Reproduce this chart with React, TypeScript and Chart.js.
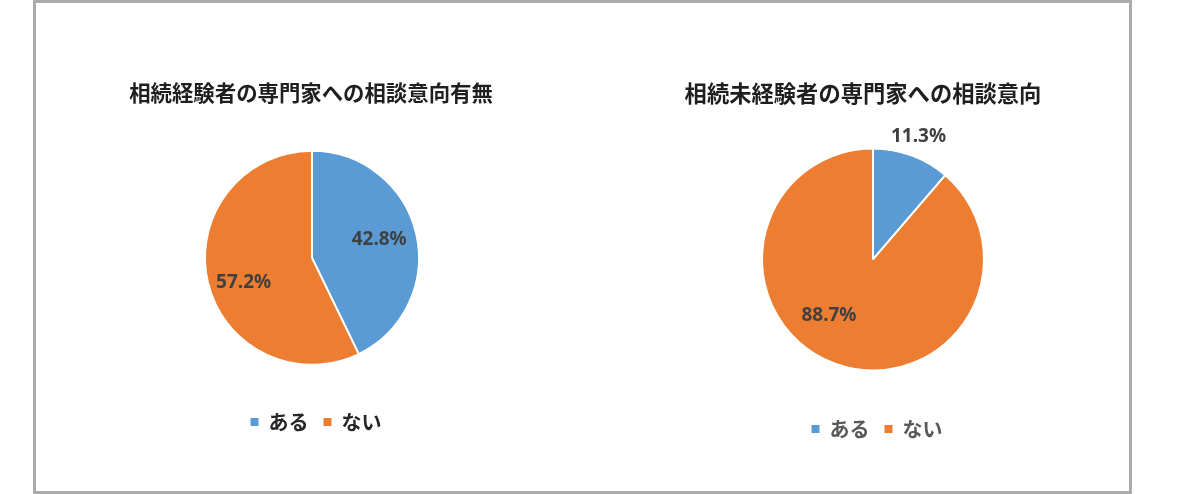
import React, { useEffect, useRef } from "react";
import { Chart, registerables } from "chart.js";

Chart.register(...registerables);

// ---- data ----
const categories = ["ある", "ない"];
const experiencedValues = [42.8, 57.2];
const inexperiencedValues = [11.3, 88.7];
const experiencedTitle = "相続経験者の専門家への相談意向有無";
const inexperiencedTitle = "相続未経験者の専門家への相談意向";
const sliceColors = ["#5B9BD5", "#ED7D31"];

const CJK = '"Noto Sans CJK JP", "Noto Sans", sans-serif';

const percentLabels = {
  id: "percentLabels",
  afterDatasetsDraw(chart: any, _args: any, opts: any) {
    const meta = chart.getDatasetMeta(0);
    const data = chart.data.datasets[0].data as number[];
    const ctx = chart.ctx;
    ctx.save();
    ctx.font = opts.font;
    ctx.fillStyle = opts.color;
    ctx.textAlign = "center";
    ctx.textBaseline = "middle";
    meta.data.forEach((arc: any, i: number) => {
      const p = arc.getProps(["x", "y", "startAngle", "endAngle", "outerRadius"], true);
      const a = (p.startAngle + p.endAngle) / 2 + ((opts.angleShift[i] || 0) * Math.PI) / 180;
      const r = p.outerRadius * opts.radius[i];
      ctx.fillText(data[i].toFixed(1) + "%", p.x + Math.cos(a) * r, p.y + Math.sin(a) * r);
    });
    ctx.restore();
  },
};

const nudge = {
  id: "nudge",
  afterLayout(chart: any, _args: any, opts: any) {
    const a = chart.chartArea;
    a.left += opts.areaDx;
    a.right += opts.areaDx;
    if (chart.titleBlock) {
      chart.titleBlock.left += opts.titleDx;
      chart.titleBlock.right += opts.titleDx;
    }
  },
};

type PieCfg = {
  left: number;
  width: number;
  title: string;
  values: number[];
  titleSize: number;
  titlePad: { top: number; bottom: number };
  legendColor: string;
  bottomPad: number;
  radius: number;
  areaDx: number;
  titleDx: number;
  labelRadius: number[];
  labelAngle: number[];
};

function PieChart({ cfg }: { cfg: PieCfg }) {
  const ref = useRef<HTMLCanvasElement>(null);
  useEffect(() => {
    if (!ref.current) return;
    const baseLabels = (Chart as any).overrides.doughnut.plugins.legend.labels.generateLabels;
    const chart = new Chart(ref.current, {
      type: "pie",
      data: {
        labels: categories,
        datasets: [
          {
            data: cfg.values,
            backgroundColor: sliceColors,
            borderColor: "#ffffff",
            borderWidth: 2,
            radius: cfg.radius,
          } as any,
        ],
      },
      options: {
        responsive: false,
        animation: false,
        events: [],
        layout: { padding: { top: 0, left: 0, right: 0, bottom: cfg.bottomPad } },
        plugins: {
          title: {
            display: true,
            text: cfg.title,
            color: "#1f1f1f",
            font: { family: CJK, size: cfg.titleSize, weight: "bold", lineHeight: 1.2 },
            padding: cfg.titlePad,
          },
          legend: {
            display: true,
            position: "bottom",
            labels: {
              color: cfg.legendColor,
              font: { family: CJK, size: 20, weight: "bold" },
              boxWidth: 8,
              boxHeight: 8,
              padding: 15,
              generateLabels: (c: any) =>
                baseLabels(c).map((l: any) => ({ ...l, lineWidth: 0, strokeStyle: "rgba(0,0,0,0)" })),
            },
          },
          tooltip: { enabled: false },
          percentLabels: {
            font: 'bold 19px "Noto Sans", "DejaVu Sans", sans-serif',
            color: "#404040",
            radius: cfg.labelRadius,
            angleShift: cfg.labelAngle,
          },
          nudge: { areaDx: cfg.areaDx, titleDx: cfg.titleDx },
        } as any,
      },
      plugins: [percentLabels, nudge],
    });
    return () => chart.destroy();
  }, [cfg]);
  return (
    <canvas
      ref={ref}
      width={cfg.width}
      height={494}
      style={{ position: "absolute", left: cfg.left, top: 0, width: cfg.width, height: 494 }}
    />
  );
}

const leftCfg: PieCfg = {
  left: 40,
  width: 552,
  title: experiencedTitle,
  values: experiencedValues,
  titleSize: 21.4,
  titlePad: { top: 80, bottom: 13 },
  legendColor: "#262626",
  bottomPad: 52,
  radius: 107,
  areaDx: -4,
  titleDx: -5,
  labelRadius: [0.65, 0.68],
  labelAngle: [-2, -7],
};

const rightCfg: PieCfg = {
  left: 622,
  width: 510,
  title: inexperiencedTitle,
  values: inexperiencedValues,
  titleSize: 22.3,
  titlePad: { top: 80, bottom: 8 },
  legendColor: "#595959",
  bottomPad: 45,
  radius: 111,
  areaDx: -4,
  titleDx: -14,
  labelRadius: [1.18, 0.64],
  labelAngle: [0, 18],
};

export default function App() {
  return (
    <div
      style={{
        position: "absolute",
        left: 0,
        top: 0,
        width: 1200,
        height: 494,
        background: "#ffffff",
        overflow: "hidden",
      }}
    >
      <div
        style={{
          position: "absolute",
          left: 33,
          top: 0,
          width: 1099,
          height: 494,
          boxSizing: "border-box",
          border: "3px solid #ababab",
        }}
      />
      <PieChart cfg={leftCfg} />
      <PieChart cfg={rightCfg} />
    </div>
  );
}
